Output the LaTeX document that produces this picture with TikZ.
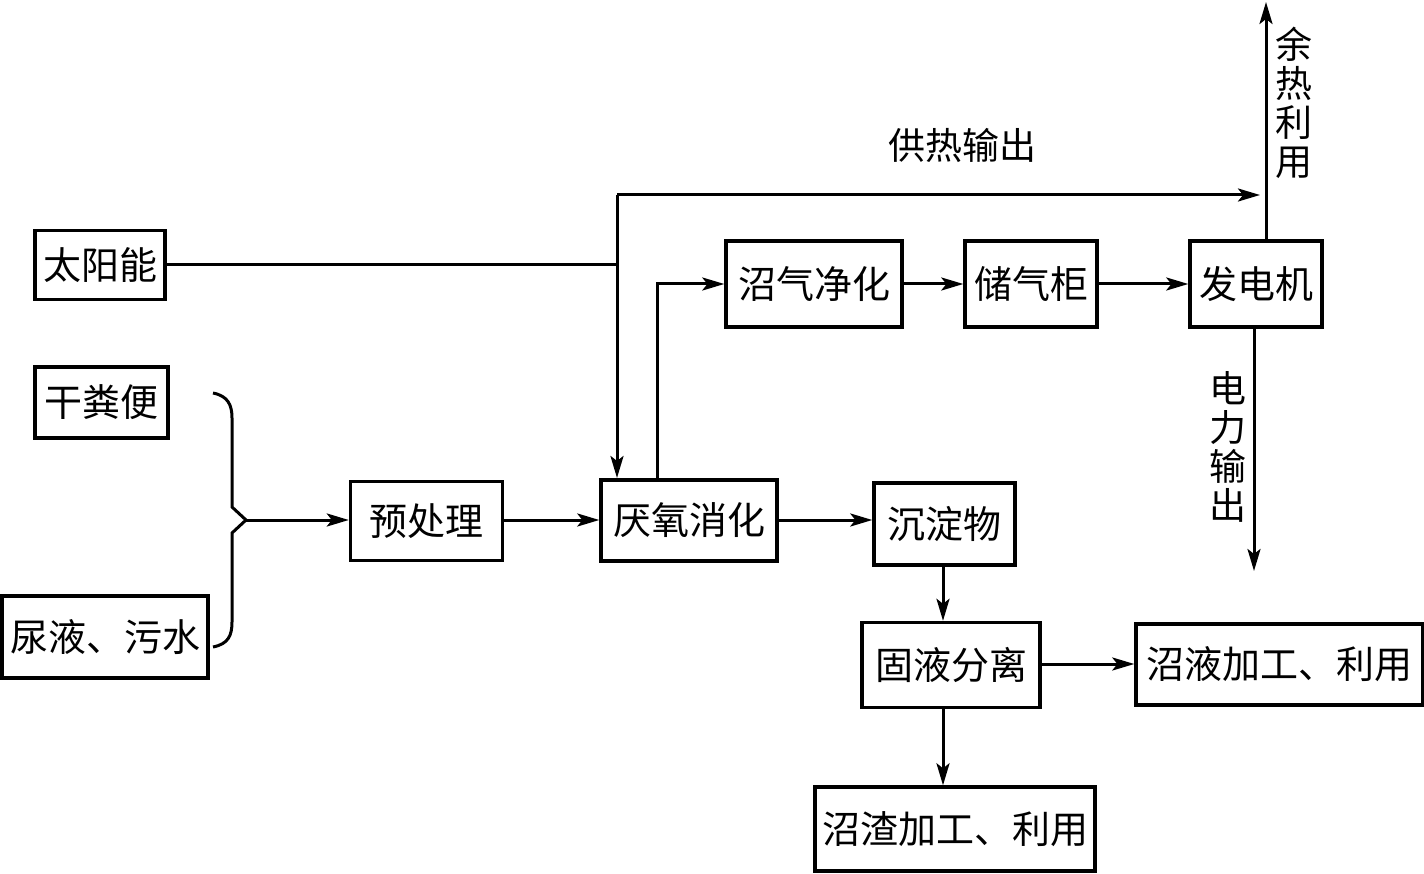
\documentclass[tikz,border=0pt]{standalone}
\usepackage{fontspec}
\setmainfont{Noto Sans CJK SC}
\usetikzlibrary{arrows.meta}
\tikzset{
  box/.style={draw, line width=3.4pt, inner sep=0pt, align=center, font=\fontsize{38}{40}\selectfont},
  conn/.style={line width=3pt},
  arr/.style={conn, -{Stealth[length=22pt,width=13pt,inset=5pt]}},
  lab/.style={inner sep=0pt, align=center, font=\fontsize{37}{39}\selectfont}
}
\begin{document}
\begin{tikzpicture}[x=1pt,y=-1pt]
\useasboundingbox (0,0) rectangle (1424,874);
% boxes
\node[box, minimum width=130pt, minimum height=69pt] (sun) at (100,265) {太阳能};
\node[box, minimum width=133pt, minimum height=71pt] (dry) at (101.5,402.5) {干粪便};
\node[box, minimum width=206pt, minimum height=82pt] (urine) at (105,637) {尿液、污水};
\node[box, minimum width=152pt, minimum height=79pt] (pre) at (426.5,521) {预处理};
\node[box, minimum width=176pt, minimum height=81pt] (ana) at (689,520.5) {厌氧消化};
\node[box, minimum width=141pt, minimum height=82pt] (sed) at (944.5,524) {沉淀物};
\node[box, minimum width=178pt, minimum height=85pt] (sep) at (951,665) {固液分离};
\node[box, minimum width=287pt, minimum height=81pt] (liq) at (1279.5,664.5) {沼液加工、利用};
\node[box, minimum width=280pt, minimum height=84pt] (res) at (955,829) {沼渣加工、利用};
\node[box, minimum width=176pt, minimum height=86pt] (pur) at (814,284) {沼气净化};
\node[box, minimum width=132pt, minimum height=86pt] (gas) at (1031,284) {储气柜};
\node[box, minimum width=132pt, minimum height=86pt] (gen) at (1256,284) {发电机};
% labels
\node[lab] (heatlab) at (962,145) {供热输出};
\node[lab] (wastelab) at (1294,103) {余\\热\\利\\用};
\node[lab] (powlab) at (1228,447) {电\\力\\输\\出};
% coordinates
\coordinate (hTL) at (617,195);
\coordinate (hEnd) at (1260,195);
\coordinate (heatout) at (1266,2);
\coordinate (powout) at (1254,571);
\coordinate (bt) at (246,520);
\coordinate (hDown) at (617,478);
% solar and heat supply
\draw[conn] (sun.east) -- (sun.east -| hTL);
\draw[arr] (hTL) -- (hEnd);
\draw[arr] (hTL) -- (hDown);
% biogas line
\draw[arr] ([xshift=-32pt]ana.north) |- (pur.west);
\draw[arr] (pur.east) -- (gas.west);
\draw[arr] (gas.east) -- (gen.west);
\draw[arr] ([xshift=10pt]gen.north) -- (heatout);
\draw[arr] ([xshift=-2pt]gen.south) -- (powout);
% brace
\draw[conn] (213,393) .. controls (228,396) and (232,405) .. (232,418)
  -- (232,507) -- (bt) -- (232,533) -- (232,622)
  .. controls (232,636) and (228,644) .. (213,647);
\draw[arr] (bt) -- (pre.west |- bt);
\draw[arr] (pre.east |- bt) -- (ana.west |- bt);
\draw[arr] (ana.east |- bt) -- (sed.west |- bt);
\draw[arr] ([xshift=-1.5pt]sed.south) -- ([xshift=-1.5pt]sed.south |- sep.north);
\draw[arr] (sep.east |- 0,664) -- (liq.west |- 0,664);
\draw[arr] ([xshift=-8pt]sep.south) -- ([xshift=-8pt]sep.south |- res.north);
\end{tikzpicture}
\end{document}
